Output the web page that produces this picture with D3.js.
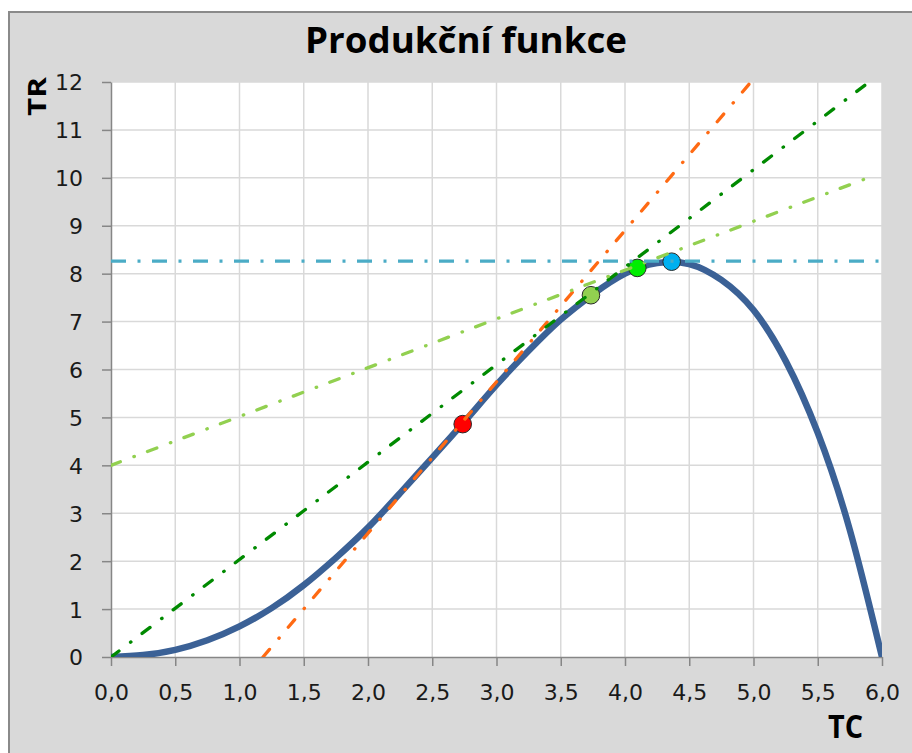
<!DOCTYPE html>
<html>
<head>
<meta charset="utf-8">
<script src="https://cdn.jsdelivr.net/npm/d3@7"></script>
<style>
  html, body { margin: 0; padding: 0; background: #ffffff; }
  svg { display: block; }
</style>
</head>
<body>
<svg id="chart" width="912" height="753"></svg>
<script>
// Production function: total cost (TC) against total revenue (TR)
const tcValues = [0, 0.25, 0.5, 0.75, 1.0, 1.25, 1.5, 1.75, 2.0, 2.25, 2.5, 2.75, 3.0, 3.25, 3.5, 3.75, 4.0, 4.25, 4.5, 4.75, 5.0, 5.25, 5.5, 5.75, 6.0];
const trValues = [0, 0.04, 0.15, 0.35, 0.64, 1.02, 1.5, 2.07, 2.7, 3.42, 4.16, 4.91, 5.68, 6.39, 7.04, 7.57, 8.0, 8.22, 8.2, 7.87, 7.24, 6.18, 4.68, 2.65, 0];

// Highlighted points on the curve
const pointTC = [2.737, 3.735, 4.096, 4.363];
const pointTR = [4.86, 7.55, 8.12, 8.25];
const pointColors = ["#ff0000", "#92d050", "#00ee00", "#00b0f0"];

// Straight reference lines: start and end points
const lineNames  = ["orange", "darkgreen", "lightgreen", "cyan"];
const lineX1 = [1.183, 0, 0, 0];
const lineY1 = [0, 0, 4.0, 8.26];
const lineX2 = [4.98, 5.9, 5.94, 6.0];
const lineY2 = [12, 12, 10.05, 8.26];
const lineColors = ["#ff6a13", "#008a00", "#92d050", "#4bacc6"];

// Axis ticks
const xTicks = [0, 0.5, 1, 1.5, 2, 2.5, 3, 3.5, 4, 4.5, 5, 5.5, 6];
const xTickLabels = ["0,0", "0,5", "1,0", "1,5", "2,0", "2,5", "3,0", "3,5", "4,0", "4,5", "5,0", "5,5", "6,0"];
const yTicks = [0, 1, 2, 3, 4, 5, 6, 7, 8, 9, 10, 11, 12];
const yTickLabels = ["0", "1", "2", "3", "4", "5", "6", "7", "8", "9", "10", "11", "12"];

const titleText = "Produkční funkce";
const xAxisTitle = "TC";
const yAxisTitle = "TR";

const svg = d3.select("#chart");

// Chart frame
svg.append("rect")
  .attr("x", 9).attr("y", 12)
  .attr("width", 920).attr("height", 760)
  .attr("fill", "#d9d9d9")
  .attr("stroke", "#8a8a8a")
  .attr("stroke-width", 2);

const plotLeft = 111, plotRight = 882, plotTop = 82, plotBottom = 657;
const x = d3.scaleLinear().domain([0, 6]).range([plotLeft, plotRight]);
const y = d3.scaleLinear().domain([0, 12]).range([plotBottom, plotTop]);

// Plot area
svg.append("rect")
  .attr("x", plotLeft).attr("y", plotTop)
  .attr("width", plotRight - plotLeft).attr("height", plotBottom - plotTop)
  .attr("fill", "#ffffff");

svg.append("clipPath").attr("id", "plotClip")
  .append("rect")
  .attr("x", plotLeft).attr("y", plotTop - 1)
  .attr("width", plotRight - plotLeft).attr("height", plotBottom - plotTop + 1);

// Gridlines
const grid = svg.append("g").attr("stroke", "#d9d9d9").attr("stroke-width", 1.5);
grid.selectAll("line.v").data(xTicks.slice(1)).join("line")
  .attr("class", "v")
  .attr("x1", d => x(d)).attr("x2", d => x(d))
  .attr("y1", plotTop).attr("y2", plotBottom);
grid.selectAll("line.h").data(yTicks.slice(1)).join("line")
  .attr("class", "h")
  .attr("x1", plotLeft).attr("x2", plotRight)
  .attr("y1", d => y(d)).attr("y2", d => y(d));

// Axes
const axisColor = "#868686";
const xAxis = d3.axisBottom(x).tickValues(xTicks)
  .tickFormat((d, i) => xTickLabels[i]).tickSize(9).tickSizeOuter(0);
const yAxis = d3.axisLeft(y).tickValues(yTicks)
  .tickFormat((d, i) => yTickLabels[i]).tickSize(9).tickPadding(19).tickSizeOuter(0);

const gx = svg.append("g").attr("transform", `translate(0,${plotBottom})`).call(xAxis);
const gy = svg.append("g").attr("transform", `translate(${plotLeft},0)`).call(yAxis);

[gx, gy].forEach(g => {
  g.select(".domain").attr("stroke", axisColor).attr("stroke-width", 1.5);
  g.selectAll(".tick line").attr("stroke", axisColor).attr("stroke-width", 1.5);
  g.selectAll(".tick text")
    .attr("fill", "#1a1a1a")
    .style("font-family", "'DejaVu Sans', sans-serif")
    .style("font-size", "22px");
});
gx.selectAll(".tick text").attr("y", 43).attr("dy", 0);
gy.selectAll(".tick text").attr("dy", "0.36em");

// Production curve (evenly spaced TC values, smoothed with a natural spline)
const curvePts = tcValues.map((d, i) => [d, trValues[i]]);
const curveLine = d3.line()
  .x(d => x(d[0])).y(d => y(d[1]))
  .curve(d3.curveNatural);

svg.append("path")
  .attr("d", curveLine(curvePts))
  .attr("fill", "none")
  .attr("stroke", "#3b6196")
  .attr("stroke-width", 6.5)
  .attr("stroke-linecap", "round")
  .attr("clip-path", "url(#plotClip)");

// Points
svg.append("g").selectAll("circle")
  .data(pointTC.map((d, i) => ({ tc: d, tr: pointTR[i], c: pointColors[i] })))
  .join("circle")
  .attr("cx", d => x(d.tc)).attr("cy", d => y(d.tr))
  .attr("r", 8.8)
  .attr("fill", d => d.c)
  .attr("stroke", "#2a2a2a")
  .attr("stroke-width", 1);

// Dash-dot reference lines
const dashPatterns = ["10,14.5,0.5,14", "10,14.5,0.5,14", "10,14.5,0.5,14", "15,11.5,3,11.5"];
const lineCaps = ["round", "round", "round", "butt"];
const lineWidths = [3.3, 3.3, 3.3, 3.3];
const refLine = d3.line().x(d => x(d[0])).y(d => y(d[1]));
svg.append("g").attr("clip-path", "url(#plotClip)")
  .selectAll("path")
  .data(lineNames.map((n, i) => ({
    name: n,
    pts: [[lineX1[i], lineY1[i]], [lineX2[i], lineY2[i]]],
    c: lineColors[i], dash: dashPatterns[i], cap: lineCaps[i], w: lineWidths[i]
  })))
  .join("path")
  .attr("d", d => refLine(d.pts))
  .attr("fill", "none")
  .attr("stroke", d => d.c)
  .attr("stroke-width", d => d.w)
  .attr("stroke-dasharray", d => d.dash)
  .attr("stroke-linecap", d => d.cap);

// Titles
svg.append("text")
  .attr("x", 466).attr("y", 53)
  .attr("text-anchor", "middle")
  .attr("textLength", 322).attr("lengthAdjust", "spacingAndGlyphs")
  .style("font-family", "'Open Sans', sans-serif")
  .style("font-weight", "bold")
  .style("font-size", "35px")
  .attr("fill", "#000")
  .text(titleText);

svg.append("text")
  .attr("x", 828).attr("y", 738)
  .attr("textLength", 35).attr("lengthAdjust", "spacingAndGlyphs")
  .style("font-family", "'Open Sans', sans-serif")
  .style("font-weight", "bold")
  .style("font-size", "32px")
  .attr("fill", "#000")
  .text(xAxisTitle);

svg.append("text")
  .attr("transform", "translate(46,116) rotate(-90)")
  .attr("textLength", 39).attr("lengthAdjust", "spacingAndGlyphs")
  .style("font-family", "'Open Sans', sans-serif")
  .style("font-weight", "bold")
  .style("font-size", "25px")
  .attr("fill", "#000")
  .text(yAxisTitle);
</script>
</body>
</html>
